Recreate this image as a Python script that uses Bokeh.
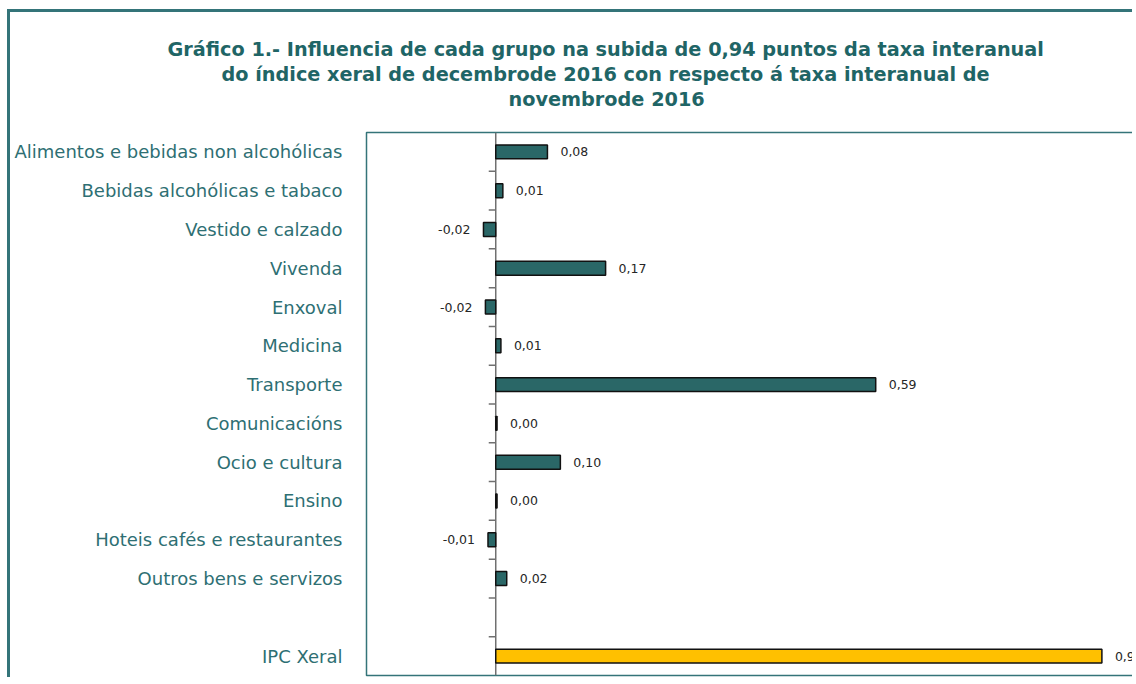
from bokeh.plotting import figure
from bokeh.models import Range1d, FixedTicker, Span, Title, ColumnDataSource
from bokeh.embed import file_html
from bokeh.resources import INLINE

# ---- data ----
categories = [
    "Alimentos e bebidas non alcohólicas",
    "Bebidas alcohólicas e tabaco",
    "Vestido e calzado",
    "Vivenda",
    "Enxoval",
    "Medicina",
    "Transporte",
    "Comunicacións",
    "Ocio e cultura",
    "Ensino",
    "Hoteis cafés e restaurantes",
    "Outros bens e servizos",
]
values = [0.080, 0.011, -0.019, 0.170, -0.016, 0.008, 0.588, 0.002, 0.100, 0.002, -0.012, 0.017]
total_label = "IPC Xeral"
total_value = 0.938

title_lines = [
    "Gráfico 1.- Influencia de cada grupo na subida de 0,94 puntos da taxa interanual",
    "do índice xeral de decembrode 2016 con respecto á taxa interanual de",
    "novembrode 2016",
]

# ---- styles ----
TEAL_BAR = "#2A6767"
TEAL_TXT = "#2E6F73"
TEAL_TITLE = "#1F6566"
TEAL_LINE = "#347479"
YELLOW = "#FFC000"
FONT = "DejaVu Sans"

n_slots = len(categories) + 2  # one blank slot before the total
ys = [n_slots - 1 - i for i in range(len(categories))]
all_y = ys + [0]
all_v = values + [total_value]
all_names = categories + [total_label]
colors = [TEAL_BAR] * len(categories) + [YELLOW]

def fmt(v):
    return ("%.2f" % v).replace(".", ",")

src = ColumnDataSource(dict(
    y=all_y, v=all_v, color=colors,
    label=[fmt(v) for v in all_v],
    align=["left" if v >= 0 else "right" for v in all_v],
    xoff=[13 if v >= 0 else -13 for v in all_v],
))

W, H = 1125, 668
p = figure(width=W, height=H, output_backend="svg", toolbar_location=None,
           x_range=Range1d(-0.2, 0.99), y_range=Range1d(-0.5, n_slots - 0.5),
           min_border_left=356, min_border_right=0, min_border_top=120, min_border_bottom=5)
p.styles = {"margin-left": "7px", "margin-top": "9px",
            "border-left": f"3px solid {TEAL_LINE}", "border-top": f"3px solid {TEAL_LINE}"}

p.xaxis.visible = False
p.xgrid.visible = False
p.ygrid.visible = False
p.outline_line_color = TEAL_LINE
p.outline_line_width = 1.5

yax = p.yaxis[0]
yax.ticker = FixedTicker(ticks=all_y)
yax.major_label_overrides = {y: n for y, n in zip(all_y, all_names)}
yax.major_tick_line_color = None
yax.minor_tick_line_color = None
yax.axis_line_color = None
yax.major_label_standoff = 18
yax.major_label_text_font = FONT
yax.major_label_text_font_size = "18px"
yax.major_label_text_color = TEAL_TXT

# zero axis line and its ticks between categories
p.add_layout(Span(location=0, dimension="height", line_color="#707070", line_width=1.5, level="underlay"))
bounds = [k + 0.5 for k in range(n_slots - 1)]
tick_len = 7 / 646
p.segment(x0=[-tick_len] * len(bounds), x1=[0] * len(bounds), y0=bounds, y1=bounds,
          line_color="#707070", line_width=1.5)

p.hbar(y="y", left=0, right="v", height=0.36, fill_color="color", line_color="#111111",
       line_width=1.5, source=src)

p.text(x="v", y="y", text="label", text_align="align", x_offset="xoff", text_baseline="middle",
       text_font_size="12.5px", text_color="#262626", text_font={"value": FONT}, source=src)

# spacer between the frame and the title block
p.add_layout(Title(text=" ", text_font_size="10px", standoff=9), "above")
# title lines, added closest-to-frame first
for line, off in zip(reversed(title_lines), [142, -145, -199]):
    p.add_layout(Title(text=line, align="left", offset=off, text_font=FONT,
                       text_font_size="19.25px", text_font_style="bold",
                       text_color=TEAL_TITLE, standoff=0), "above")

open("out.html", "w").write(file_html(p, INLINE))
